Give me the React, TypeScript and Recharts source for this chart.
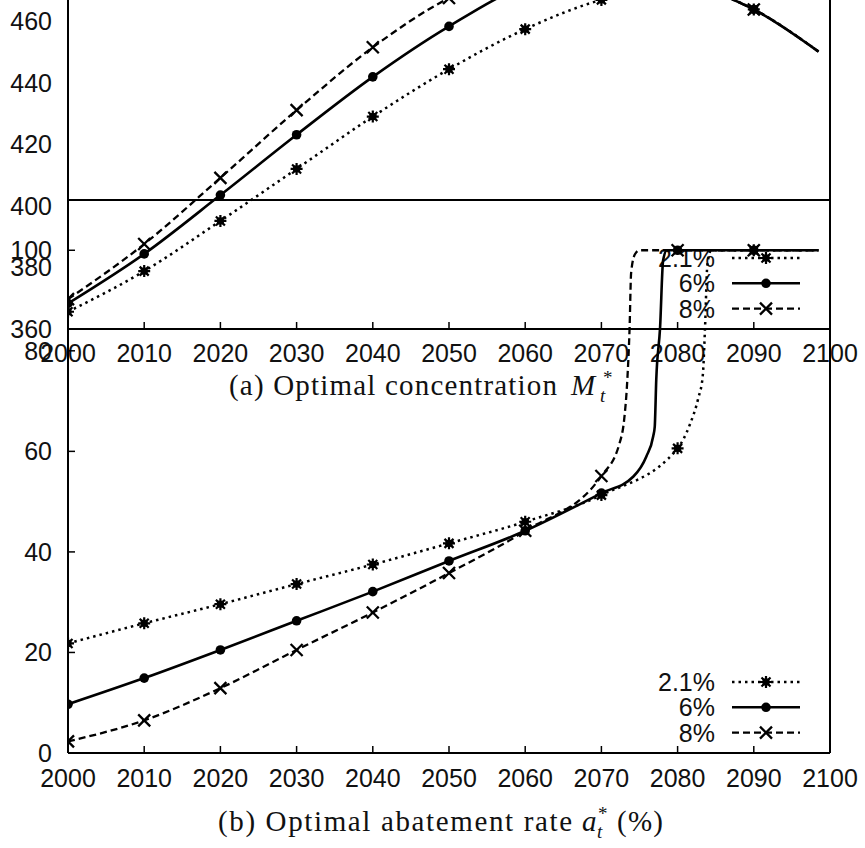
import React from 'react';
import { LineChart, Line, XAxis, YAxis, Legend } from 'recharts';

// ---------- shared ----------
const yearTicks = [2000, 2010, 2020, 2030, 2040, 2050, 2060, 2070, 2080, 2090, 2100];
const seriesNames = ['2.1%', '6%', '8%'];

// ---------- (a) optimal concentration M_t* ----------
const concYears = [2000, 2010, 2020, 2030, 2040, 2050, 2060, 2070, 2080, 2087, 2090, 2098.5];
const concLow = [365.6, 378.8, 395.1, 412.0, 429.0, 444.4, 457.4, 466.9, 471.0, 467.3, 463.8, 450.1];
const concMid = [368.3, 384.4, 403.5, 423.1, 441.9, 458.3, 471.5, 476.0, 474.0, 467.3, 463.8, 450.1];
const concHigh = [369.7, 387.6, 409.1, 431.1, 451.5, 467.5, 477.0, 481.0, 476.0, 467.3, 463.8, 450.1];
const concTicks = [360, 380, 400, 420, 440, 460, 480, 500];

// ---------- (b) optimal abatement rate a_t* (%) ----------
const abateLowYears = [2000, 2010, 2020, 2030, 2040, 2050, 2060, 2070, 2080, 2081.6, 2082.7, 2083.3, 2083.6, 2083.9, 2084.4, 2090, 2098.5];
const abateLow = [21.8, 25.8, 29.6, 33.6, 37.5, 41.7, 46.0, 51.3, 60.6, 65.3, 70.5, 75.0, 84.6, 97.0, 100, 100, 100];
const abateMidYears = [2000, 2010, 2020, 2030, 2040, 2050, 2060, 2070, 2074.2, 2075.9, 2076.8, 2077.0, 2077.2, 2077.7, 2078.1, 2078.6, 2080, 2090, 2098.5];
const abateMid = [9.7, 14.9, 20.5, 26.3, 32.1, 38.2, 44.2, 51.7, 55.0, 59.0, 63.0, 64.9, 74.3, 84.6, 98.0, 100, 100, 100, 100];
const abateHighYears = [2000, 2010, 2020, 2030, 2040, 2050, 2060, 2070, 2072.4, 2073.0, 2073.4, 2073.7, 2073.9, 2074.4, 2075.0, 2080, 2090, 2098.5];
const abateHigh = [2.3, 6.5, 12.9, 20.5, 27.95, 35.8, 44.2, 55.1, 61.7, 66.5, 74.2, 84.6, 95.5, 99.2, 100, 100, 100, 100];
const abateTicks = [0, 20, 40, 60, 80, 100];
const abateRightTicks = [0, 20, 40, 60, 80];

const toRows = (years: number[], vals: number[]) => years.map((year, i) => ({ year, v: vals[i] }));

const FONT = '"Liberation Sans", Arial, Helvetica, sans-serif';
const SERIF = '"Liberation Serif", "Times New Roman", serif';
const INK = '#111';
const FS = 25;

type Kind = 'star' | 'circle' | 'cross';
const STYLES: { dash?: string; width: number; kind: Kind }[] = [
  { dash: '2.5 4', width: 2.5, kind: 'star' },
  { dash: undefined, width: 2.6, kind: 'circle' },
  { dash: '7 4', width: 2.3, kind: 'cross' },
];

function Marker({ kind, x, y }: { kind: Kind; x: number; y: number }) {
  if (kind === 'circle') return <circle cx={x} cy={y} r={4.8} fill="#000" />;
  if (kind === 'cross') {
    const s = 6;
    return (
      <path d={`M${x - s},${y - s}L${x + s},${y + s}M${x - s},${y + s}L${x + s},${y - s}`} stroke="#000" strokeWidth={2.3} fill="none" />
    );
  }
  const s = 6;
  const d = 4.5;
  return (
    <g>
      <rect x={x - 3.5} y={y - 3.5} width={7} height={7} fill="#000" />
      <path
        d={`M${x - s},${y}L${x + s},${y}M${x},${y - s}L${x},${y + s}M${x - d},${y - d}L${x + d},${y + d}M${x - d},${y + d}L${x + d},${y - d}`}
        stroke="#000"
        strokeWidth={2.2}
        fill="none"
      />
    </g>
  );
}

const makeDot = (kind: Kind) => (props: any) => {
  const { cx, cy, payload, index } = props;
  if (cx == null || cy == null || payload.year % 10 !== 0) return <g key={`d${index}`} />;
  return (
    <g key={`d${index}`}>
      <Marker kind={kind} x={cx} y={cy} />
    </g>
  );
};

const LegendBox = () => (
  <svg width={180} height={80} style={{ display: 'block', overflow: 'visible' }}>
    {seriesNames.map((name, i) => {
      const y = 13 + i * 25.3;
      const st = STYLES[i];
      return (
        <g key={name}>
          <text x={80} y={y} textAnchor="end" dominantBaseline="central" fontSize={FS} fontFamily={FONT} fill={INK}>
            {name}
          </text>
          <line x1={97} x2={165} y1={y} y2={y} stroke="#000" strokeWidth={st.width} strokeDasharray={st.dash} />
          <Marker kind={st.kind} x={131} y={y} />
        </g>
      );
    })}
  </svg>
);

const tickStyle = { fontSize: FS, fill: INK, fontFamily: FONT };
const axisLineStyle = { stroke: '#000', strokeWidth: 2 };
const tickLineStyle = { stroke: '#000', strokeWidth: 1.5 };

const concSeries = [concLow, concMid, concHigh];
const abateSeries = [
  toRows(abateLowYears, abateLow),
  toRows(abateMidYears, abateMid),
  toRows(abateHighYears, abateHigh),
];

function ChartA() {
  const TOP = -112;
  return (
    <div style={{ position: 'absolute', left: 0, top: TOP }}>
      <LineChart width={865} height={511} margin={{ top: 10, right: 34, bottom: 10, left: 8 }}>
        <XAxis
          type="number"
          dataKey="year"
          domain={[2000, 2100]}
          ticks={yearTicks}
          interval={0}
          allowDataOverflow
          height={60}
          tickSize={-7}
          tickMargin={22}
          tick={tickStyle}
          axisLine={axisLineStyle}
          tickLine={tickLineStyle}
        />
        <YAxis
          type="number"
          domain={[360, 500]}
          ticks={concTicks}
          interval={0}
          allowDataOverflow
          width={60}
          tickSize={0}
          tickMargin={16}
          tick={tickStyle}
          axisLine={axisLineStyle}
          tickLine={false}
        />
        <YAxis
          yAxisId="r"
          orientation="right"
          type="number"
          domain={[360, 500]}
          ticks={concTicks}
          interval={0}
          allowDataOverflow
          width={1}
          tickSize={-7}
          tick={false}
          axisLine={axisLineStyle}
          tickLine={tickLineStyle}
        />
        {concSeries.map((vals, i) => (
          <Line
            key={seriesNames[i]}
            data={toRows(concYears, vals)}
            dataKey="v"
            type="monotone"
            stroke="#000"
            strokeWidth={STYLES[i].width}
            strokeDasharray={STYLES[i].dash}
            dot={makeDot(STYLES[i].kind)}
            activeDot={false}
            isAnimationActive={false}
          />
        ))}
        <Legend
          layout="vertical"
          align="center"
          verticalAlign="middle"
          content={<LegendBox />}
          wrapperStyle={{ position: 'absolute', left: 635, top: 245 - TOP, width: 180, height: 80 }}
        />
      </LineChart>
    </div>
  );
}

function ChartB() {
  return (
    <div style={{ position: 'absolute', left: 0, top: 0 }}>
      <LineChart width={865} height={848} margin={{ top: 199, right: 34, bottom: 35, left: 8 }}>
        <XAxis
          type="number"
          dataKey="year"
          domain={[2000, 2100]}
          ticks={yearTicks}
          interval={0}
          allowDataOverflow
          height={60}
          tickSize={-7}
          tickMargin={23}
          tick={tickStyle}
          axisLine={axisLineStyle}
          tickLine={tickLineStyle}
        />
        <XAxis
          xAxisId="t"
          orientation="top"
          type="number"
          domain={[2000, 2100]}
          ticks={yearTicks}
          interval={0}
          allowDataOverflow
          height={1}
          tickSize={-7}
          tick={false}
          axisLine={axisLineStyle}
          tickLine={tickLineStyle}
        />
        <YAxis
          type="number"
          domain={[0, 110]}
          ticks={abateTicks}
          interval={0}
          allowDataOverflow
          width={60}
          tickSize={-7}
          tickMargin={23}
          tick={tickStyle}
          axisLine={axisLineStyle}
          tickLine={tickLineStyle}
        />
        <YAxis
          yAxisId="r"
          orientation="right"
          type="number"
          domain={[0, 110]}
          ticks={abateRightTicks}
          interval={0}
          allowDataOverflow
          width={1}
          tickSize={-7}
          tick={false}
          axisLine={axisLineStyle}
          tickLine={tickLineStyle}
        />
        {abateSeries.map((rows, i) => (
          <Line
            key={seriesNames[i]}
            data={rows}
            dataKey="v"
            type="monotone"
            stroke="#000"
            strokeWidth={STYLES[i].width}
            strokeDasharray={STYLES[i].dash}
            dot={makeDot(STYLES[i].kind)}
            activeDot={false}
            isAnimationActive={false}
          />
        ))}
        <Legend
          layout="vertical"
          align="center"
          verticalAlign="middle"
          content={<LegendBox />}
          wrapperStyle={{ position: 'absolute', left: 635, top: 669, width: 180, height: 80 }}
        />
      </LineChart>
    </div>
  );
}

function Titles() {
  const ya = 395;
  const yb = 831;
  return (
    <svg width={865} height={848} style={{ position: 'absolute', left: 0, top: 0, pointerEvents: 'none' }}>
      <g fontFamily={SERIF} fill={INK}>
        <text x={229} y={ya} fontSize={29} textLength={328} lengthAdjust="spacing">
          (a) Optimal concentration
        </text>
        <text x={571} y={ya} fontSize={29} fontStyle="italic">M</text>
        <text x={603} y={ya - 11} fontSize={19}>*</text>
        <text x={600} y={ya + 7} fontSize={19} fontStyle="italic">t</text>

        <text x={218} y={yb} fontSize={29} textLength={354} lengthAdjust="spacing">
          (b) Optimal abatement rate
        </text>
        <text x={582} y={yb} fontSize={29} fontStyle="italic">a</text>
        <text x={598} y={yb - 11} fontSize={19}>*</text>
        <text x={597} y={yb + 7} fontSize={19} fontStyle="italic">t</text>
        <text x={617} y={yb} fontSize={29} textLength={46} lengthAdjust="spacing">(%)</text>
      </g>
    </svg>
  );
}

export default function App() {
  return (
    <div style={{ position: 'absolute', left: 0, top: 0, width: 865, height: 848, overflow: 'hidden', background: '#fff' }}>
      <ChartA />
      <ChartB />
      <Titles />
    </div>
  );
}
